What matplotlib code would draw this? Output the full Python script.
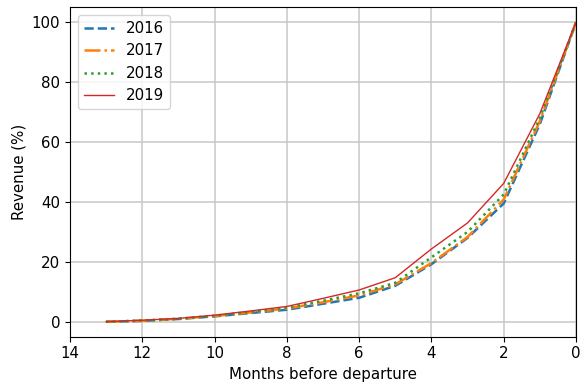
import matplotlib
matplotlib.use("Agg")
import matplotlib.pyplot as plt

months = [13, 12, 11, 10, 9, 8, 7, 6, 5, 4, 3, 2, 1, 0]
rev_2016 = [0, 0.3, 0.9, 1.8, 2.9, 4.0, 6.0, 8.0, 12.0, 19.2, 28.0, 39.5, 66.0, 100]
rev_2017 = [0, 0.3, 1.0, 1.9, 3.1, 4.4, 6.5, 8.8, 12.5, 19.6, 28.3, 40.8, 67.0, 100]
rev_2018 = [0, 0.4, 1.0, 2.0, 3.3, 4.7, 7.0, 9.5, 13.0, 21.5, 30.0, 42.5, 68.0, 100]
rev_2019 = [0, 0.5, 1.1, 2.2, 3.6, 5.1, 7.8, 10.6, 14.7, 24.3, 33.0, 46.2, 69.5, 100]
labels = ["2016", "2017", "2018", "2019"]

plt.rcParams["font.size"] = 10.8

fig = plt.figure(figsize=(5.81, 3.87), dpi=100)
ax = fig.add_axes([70/581, 1-336.7/387, (576-70)/581, (336.7-7.3)/387])
ax.plot(months, rev_2016, linestyle="--", color="#1f77b4", lw=1.8, label=labels[0])
ax.plot(months, rev_2017, linestyle="-.", color="#ff7f0e", lw=1.8, label=labels[1])
ax.plot(months, rev_2018, linestyle=":", color="#2ca02c", lw=1.8, label=labels[2])
ax.plot(months, rev_2019, linestyle="-", color="#d62728", lw=1.0, label=labels[3])
ax.set_xlim(14, 0)
ax.set_ylim(-5, 105)
ax.set_xticks([14, 12, 10, 8, 6, 4, 2, 0])
ax.set_yticks([0, 20, 40, 60, 80, 100])
ax.grid(True, color="#c8c8c8", lw=1.1)
ax.set_axisbelow(True)
ax.set_xlabel("Months before departure")
ax.set_ylabel("Revenue (%)")
ax.legend(loc="upper left", fontsize=10.8)
fig.savefig("out.png", dpi=100)
